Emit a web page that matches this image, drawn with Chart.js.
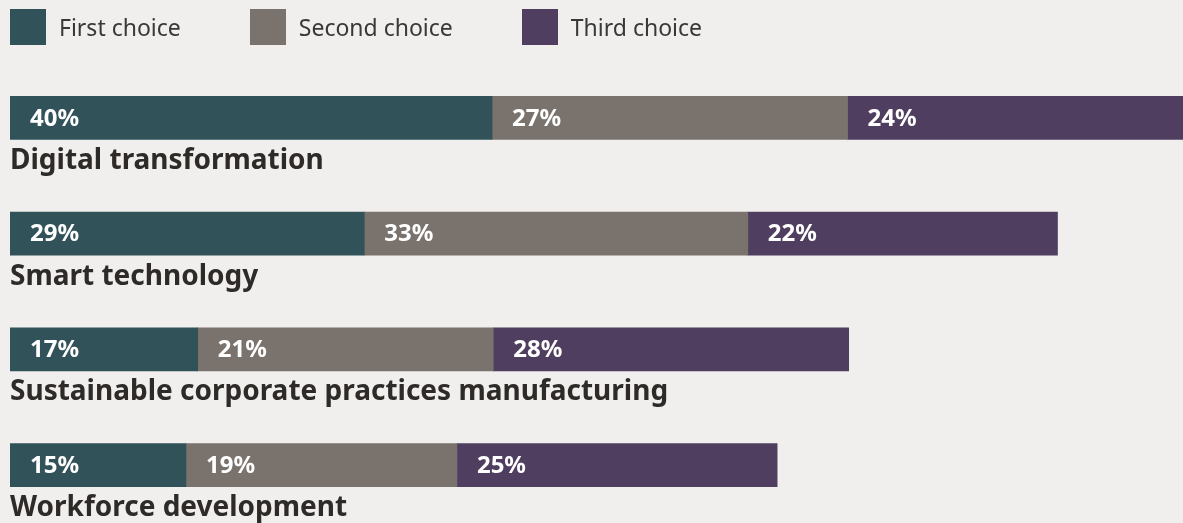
<!DOCTYPE html>
<html>
<head>
<meta charset="utf-8">
<script src="https://cdn.jsdelivr.net/npm/chart.js@4.4.1/dist/chart.umd.min.js"></script>
<style>
  html, body { margin: 0; padding: 0; background: #f0efed; }
  body { width: 1183px; height: 523px; position: relative; overflow: hidden; font-family: "Noto Sans", sans-serif; }
  #legend { position: absolute; left: 10px; top: 9px; display: flex; }
  .legend-item { display: flex; align-items: center; margin-right: 69px; }
  .legend-box { width: 36px; height: 36px; margin-right: 13px; }
  .legend-text { font-size: 23px; color: #383838; line-height: 36px; }
  #wrap { position: absolute; left: 0; top: 0; width: 1183px; height: 523px; }
</style>
</head>
<body>
<div id="wrap"><canvas id="choices-chart"></canvas></div>
<div id="legend"></div>
<script>
// rows of the chart
const categories = [
    "Digital transformation",
    "Smart technology",
    "Sustainable corporate practices manufacturing",
    "Workforce development"
];

// printed percentages
const firstChoice = [40, 29, 17, 15];
const secondChoice = [27, 33, 21, 19];
const thirdChoice = [24, 22, 28, 25];

// drawn segment lengths, % of the bar track, measured off the reference
// (the source art is not drawn to scale, so the bars don't follow the printed values)
const firstLength = [41.1, 30.2, 16.0, 15.0];
const secondLength = [30.3, 32.7, 25.2, 23.1];
const thirdLength = [28.6, 26.4, 30.3, 27.3];

const seriesNames = ["First choice", "Second choice", "Third choice"];
const seriesColors = ["#315259", "#7a736d", "#4f3e5f"];

const datasetsArray = [
    { label: seriesNames[0], data: firstLength, printed: firstChoice, backgroundColor: seriesColors[0] },
    { label: seriesNames[1], data: secondLength, printed: secondChoice, backgroundColor: seriesColors[1] },
    { label: seriesNames[2], data: thirdLength, printed: thirdChoice, backgroundColor: seriesColors[2] }
];

// white percentage text at the start of every segment
const segmentLabels = {
    id: "segmentLabels",
    afterDatasetsDraw(chart) {
        const ctx = chart.ctx;
        ctx.save();
        ctx.fillStyle = "#ffffff";
        ctx.font = "bold 24px 'Noto Sans', sans-serif";
        ctx.textAlign = "left";
        ctx.textBaseline = "middle";
        chart.data.datasets.forEach((ds, i) => {
            chart.getDatasetMeta(i).data.forEach((bar, j) => {
                ctx.fillText(ds.printed[j] + "%", bar.base + 20, bar.y + 1);
            });
        });
        ctx.restore();
    }
};

// row names under each bar
const rowNames = {
    id: "rowNames",
    afterDraw(chart) {
        const ctx = chart.ctx;
        const yScale = chart.scales.y;
        ctx.save();
        ctx.fillStyle = "#2d2a28";
        ctx.font = "bold 28px 'Noto Sans', sans-serif";
        ctx.textAlign = "left";
        ctx.textBaseline = "alphabetic";
        chart.data.labels.forEach((name, j) => {
            const y = yScale.getPixelForValue(j);
            ctx.fillText(name, chart.chartArea.left, y + 51);
        });
        ctx.restore();
    }
};

const choicesChart = new Chart("choices-chart", {
    type: "bar",
    data: {
        labels: categories,
        datasets: datasetsArray
    },
    options: {
        indexAxis: "y",
        responsive: true,
        maintainAspectRatio: false,
        animation: false,
        layout: { padding: { left: 10, right: 0, top: 60, bottom: 0 } },
        datasets: { bar: { barThickness: 43, borderWidth: 0 } },
        plugins: {
            legend: { display: false },
            tooltip: { enabled: false }
        },
        scales: {
            x: { stacked: true, min: 0, max: 100, display: false },
            y: { stacked: true, display: false }
        }
    },
    plugins: [segmentLabels, rowNames]
});

// html legend built from the datasets
const legendBox = document.getElementById("legend");
choicesChart.data.datasets.forEach(ds => {
    const item = document.createElement("div");
    item.className = "legend-item";
    const box = document.createElement("div");
    box.className = "legend-box";
    box.style.background = ds.backgroundColor;
    const txt = document.createElement("span");
    txt.className = "legend-text";
    txt.textContent = ds.label;
    item.appendChild(box);
    item.appendChild(txt);
    legendBox.appendChild(item);
});
</script>
</body>
</html>
